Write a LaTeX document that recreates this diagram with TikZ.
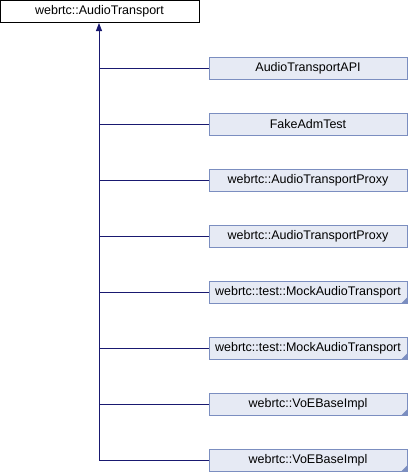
\documentclass[tikz,border=0pt]{standalone}
\usepackage{fontspec}
\setmainfont{Liberation Sans}
\usetikzlibrary{arrows.meta}
\definecolor{edgec}{HTML}{191970}
\definecolor{boxfill}{HTML}{E6EAF4}
\definecolor{boxdraw}{HTML}{7B8EC0}
\begin{document}
\begin{tikzpicture}[x=1pt,y=-1pt,
  base/.style={draw=black, fill=white, line width=1pt, minimum width=199pt, minimum height=22pt, inner sep=0pt, font=\fontsize{12.5}{14}\selectfont},
  child/.style={draw=boxdraw, fill=boxfill, line width=1pt, minimum width=198pt, minimum height=22pt, inner sep=0pt, font=\fontsize{12.5}{14}\selectfont},
  edge/.style={draw=edgec, line width=0.9pt},
  corner/.style={fill=boxdraw}]
\useasboundingbox (0,0) rectangle (408,472);
\node[base] (top) at (99.5,11.5) {webrtc::AudioTransport};
\foreach \i/\t/\c in {0/AudioTransportAPI/0, 1/FakeAdmTest/0, 2/webrtc::AudioTransportProxy/0, 3/webrtc::AudioTransportProxy/0, 4/webrtc::test::MockAudioTransport/1, 5/webrtc::test::MockAudioTransport/1, 6/webrtc::VoEBaseImpl/1, 7/webrtc::VoEBaseImpl/1}{
  \pgfmathsetmacro{\cy}{68.5+56*\i}
  \node[child] (c\i) at (308,\cy) {\t};
  \coordinate (j\i) at (99,\cy);
  \ifnum\c=1
    \fill[corner] ([shift={(-0.5,-0.5)}]c\i.south east) -- ++(-6,0) -- ++(6,-6) -- cycle;
  \fi
  \draw[edge] (j\i) -- (c\i.west);
}
\draw[edge, -{Triangle[width=6pt,length=8pt]}] (j7) -- (top.south -| j7);
\end{tikzpicture}
\end{document}
